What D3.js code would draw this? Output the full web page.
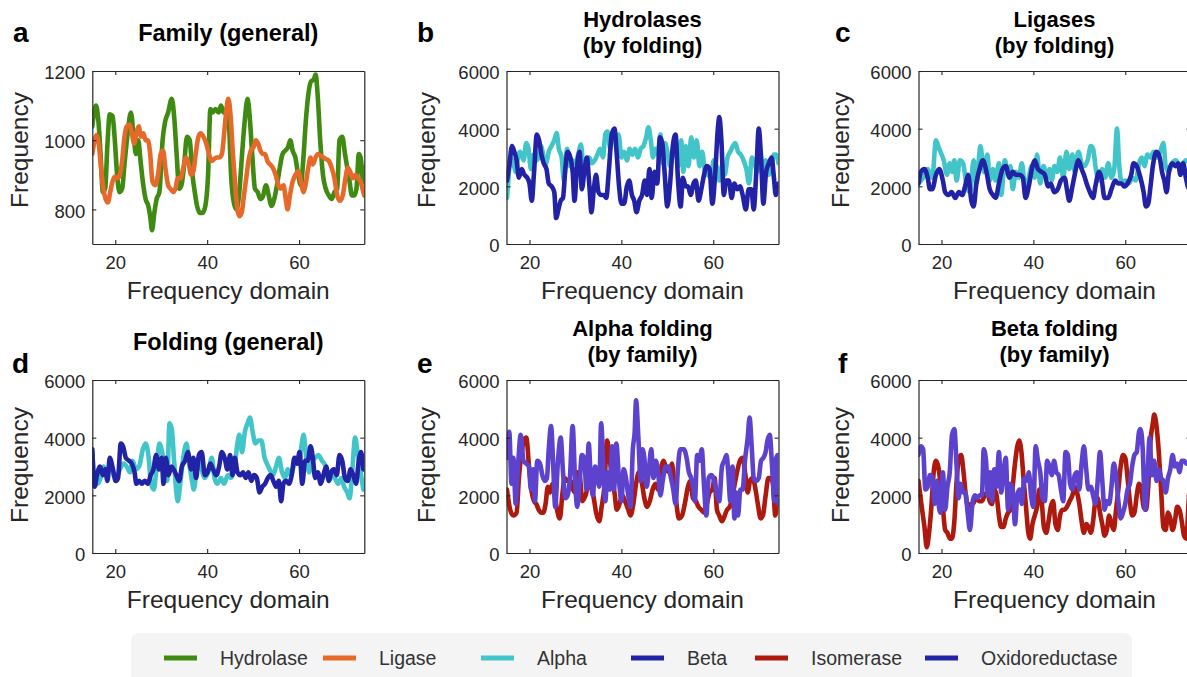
<!DOCTYPE html>
<html><head><meta charset="utf-8">
<script src="https://cdn.jsdelivr.net/npm/d3@7"></script>
<style>
body{margin:0;background:#fff;}
svg text{font-family:"Liberation Sans",Arial,Helvetica,sans-serif;}
</style>
</head><body>
<svg id="chart" width="1187" height="677"></svg>
<script>
// ---------------- DATA ----------------
const xTicks = [20, 40, 60];
const famTicks = [800, 1000, 1200];
const freqTicks = [0, 2000, 4000, 6000];
const legendNames = ["Hydrolase", "Ligase", "Alpha", "Beta", "Isomerase", "Oxidoreductase"];

// a: Family (general)
const famHydrolase = [[15,1040],[15.4,1080],[15.8,1100],[16.3,1060],[16.8,960],[17.3,850],[17.8,860],[18.3,990],[18.8,1075],[19.4,1070],[19.9,1000],[20.4,900],[20.9,850],[21.5,860],[22,930],[22.7,1020],[23.4,1080],[24,1010],[24.5,960],[25,1000],[25.5,940],[26,880],[26.6,830],[27.2,810],[27.6,780],[28,740],[28.5,790],[29,830],[29.6,850],[30.3,1000],[30.8,1050],[31.5,1080],[32.3,1120],[32.8,1070],[33.4,950],[33.9,860],[34.4,870],[35,930],[35.6,1010],[36.2,1000],[36.8,900],[37.3,850],[37.8,810],[38.4,790],[39,790],[39.6,810],[40.2,900],[40.7,1090],[41.2,1080],[41.8,1090],[42.5,1080],[43,1100],[43.6,1080],[44.2,1090],[44.7,1060],[45.2,900],[45.8,820],[46.4,800],[47,850],[47.6,960],[48.2,1060],[48.8,1120],[49.3,1060],[49.8,960],[50.4,860],[51,850],[51.6,830],[52.2,840],[52.8,870],[53.4,840],[54,810],[54.6,830],[55.2,870],[55.8,920],[56.4,960],[57,970],[57.6,980],[58.1,1000],[58.6,970],[59.2,950],[59.8,900],[60.4,870],[60.9,940],[61.5,1060],[62,1130],[62.6,1170],[63.2,1175],[63.6,1190],[64.1,1120],[64.6,1000],[65.2,900],[65.8,860],[66.5,840],[67.1,830],[67.7,850],[68.3,860],[68.8,1000],[69.4,1010],[70,960],[70.5,920],[71,880],[71.5,840],[72,840],[72.5,860],[73,960],[73.4,950],[74,880],[74.2,920]];
const famLigase = [[15,960],[15.5,1000],[15.9,1015],[16.4,990],[16.9,920],[17.4,860],[17.9,830],[18.4,820],[18.9,850],[19.4,880],[19.9,895],[20.5,890],[21,900],[21.5,940],[22,1010],[22.5,1040],[23.1,1045],[23.6,1020],[24.1,990],[24.6,1020],[25.1,1040],[25.6,1010],[26.1,1020],[26.6,1000],[27.1,1000],[27.6,960],[28.1,880],[28.7,870],[29.3,900],[29.9,960],[30.4,970],[30.9,920],[31.5,870],[32,860],[32.6,850],[33.1,860],[33.6,890],[34.2,890],[34.8,920],[35.4,950],[36,930],[36.5,900],[37,910],[37.5,960],[38.1,1010],[38.6,1020],[39.2,1010],[39.8,990],[40.4,960],[40.9,940],[41.5,945],[42,950],[42.6,950],[43.2,960],[43.7,1020],[44.2,1090],[44.6,1120],[45.1,1070],[45.6,960],[46.1,870],[46.6,800],[47,780],[47.5,790],[48,840],[48.5,890],[49,940],[49.5,970],[50.1,980],[50.6,1000],[51.1,990],[51.6,970],[52.1,960],[52.6,960],[53.1,940],[53.7,930],[54.3,920],[54.9,900],[55.5,870],[56,860],[56.6,870],[57.1,830],[57.5,800],[58,840],[58.6,880],[59.2,900],[59.8,910],[60.4,880],[61,850],[61.4,870],[62,920],[62.5,950],[63,930],[63.6,950],[64.1,960],[64.7,955],[65.3,950],[65.9,945],[66.5,940],[67.1,920],[67.7,890],[68.3,840],[68.9,825],[69.5,840],[70.1,890],[70.6,920],[71.1,910],[71.7,890],[72.3,900],[72.8,890],[73.4,880],[74,850],[74.2,840]];

// b: Hydrolases (by folding)
const hydAlpha = [[15.1,1600],[15.4,2200],[15.8,3000],[16.5,2800],[17,2500],[17.6,3100],[18,3200],[18.7,2900],[19.3,3500],[19.8,3300],[20.3,2600],[20.9,3100],[21.5,2900],[22,3000],[22.5,3400],[23.1,3000],[23.6,2800],[24.2,3200],[24.8,3400],[25.4,3600],[25.9,3850],[26.4,3300],[27,3000],[27.5,2200],[28.2,3300],[28.8,2700],[29.4,2900],[30,2800],[30.6,3100],[31.2,3450],[31.8,2600],[32.4,2800],[33,3000],[33.6,2800],[34.2,2900],[34.8,3100],[35.4,3300],[36,3000],[36.5,3800],[37,3900],[37.6,3300],[38.2,3900],[38.8,3700],[39.4,3800],[40,3000],[40.6,3200],[41.2,2900],[41.8,3300],[42.4,3100],[43,3300],[43.6,3000],[44.2,3300],[44.8,3400],[45.4,3700],[45.9,4050],[46.4,3600],[46.9,3000],[47.4,3300],[47.9,3100],[48.5,3800],[49,2800],[49.5,3500],[50,3200],[50.6,2700],[51.2,3100],[51.8,3400],[52.4,2700],[53,3600],[53.5,2500],[54,3400],[54.6,2700],[55.2,3700],[55.8,3000],[56.4,3600],[57,2700],[57.6,3200],[58.2,2500],[58.8,2400],[59.5,2300],[60.1,2900],[60.7,2700],[61.3,2200],[61.9,2700],[62.5,2400],[63.1,3000],[63.7,3200],[64.3,3400],[64.8,3500],[65.4,3200],[66,3100],[66.6,2900],[67.2,2600],[67.8,2100],[68.4,3000],[69,2800],[69.6,2500],[70.2,3200],[70.8,2500],[71.4,2900],[72,2400],[72.6,2600],[73.2,3100],[73.7,3100],[74.2,2800]];
const hydBeta = [[15.1,2200],[15.6,2700],[16.2,3400],[16.7,3200],[17.2,2900],[17.7,2300],[18.3,2600],[18.9,2400],[19.5,2300],[20,2100],[20.5,1500],[21,2500],[21.6,3800],[22.1,3600],[22.6,3100],[23.1,2800],[23.7,2600],[24.2,2100],[24.8,2000],[25.4,1800],[25.8,900],[26.3,1200],[26.8,1500],[27.3,1600],[27.8,2600],[28.3,3200],[28.9,3000],[29.4,2500],[29.8,1500],[30.3,2600],[30.9,3200],[31.4,1900],[32,2600],[32.5,3000],[33,2100],[33.5,1100],[34,1900],[34.5,2400],[35,1800],[35.6,1700],[36.2,1700],[36.7,1600],[37.3,2600],[37.9,3800],[38.5,4000],[39,3100],[39.5,2000],[40,1400],[40.6,1400],[41.2,2000],[41.7,2200],[42.3,1700],[42.8,1500],[43.3,1100],[43.9,1500],[44.5,1700],[45.1,2200],[45.6,1700],[46.1,2600],[46.6,1600],[47.2,2500],[47.8,2100],[48.4,3700],[48.9,3500],[49.4,2500],[50,1300],[50.6,2100],[51.2,3400],[51.8,3800],[52.3,2300],[52.9,1300],[53.4,2300],[54,2000],[54.5,2000],[55.1,1700],[55.7,2100],[56.2,2200],[56.8,1500],[57.4,1900],[58,2400],[58.6,2700],[59.2,2600],[59.8,1400],[60.4,2400],[61,4000],[61.3,4400],[61.8,3500],[62.3,1700],[62.8,2200],[63.4,2200],[64,1600],[64.6,2100],[65.2,1900],[65.8,2000],[66.4,1700],[67.1,1200],[67.7,1900],[68.3,1900],[68.8,1200],[69.4,2600],[69.9,4000],[70.4,3000],[70.9,1400],[71.5,2500],[72.1,2800],[72.7,3000],[73.2,2300],[73.6,1700],[74.2,2100]];

// c: Ligases (by folding)
const ligAlpha = [[15,2100],[16,2300],[17,2600],[18,2300],[18.8,3600],[19.5,3300],[20.5,2900],[21.2,2400],[21.8,2800],[22.3,2500],[22.8,2900],[23.3,2200],[24,2900],[24.7,2800],[25.5,2000],[26.2,1800],[27,2900],[27.6,2100],[28.5,3400],[29.2,2500],[30,3100],[30.5,2200],[31.2,2600],[31.8,2200],[32.5,2800],[33,1700],[33.8,2900],[34.5,2400],[35,2700],[35.5,1900],[36.2,2500],[36.8,2300],[37.5,2800],[38.2,2000],[39,2300],[39.6,2700],[40.3,2300],[40.8,3100],[41.5,2100],[42.2,2700],[43,2300],[43.5,2600],[44,2200],[44.6,2700],[45.2,2500],[45.8,3000],[46.5,2300],[47.2,3200],[47.8,2600],[48.5,3100],[49,2500],[49.8,3200],[50.5,2800],[51,2700],[51.8,2900],[52.5,3400],[53,3300],[53.6,2600],[54.3,2200],[55,2600],[55.6,2300],[56.3,2800],[57,2300],[57.6,2600],[58.2,4000],[58.7,2700],[59.3,2100],[60,2200],[60.8,2100],[61.5,2300],[62.3,2200],[63,2800],[63.6,3000],[64.2,2700],[64.8,3100],[65.5,3000],[66.2,3200],[67,3000],[67.8,3300],[68.3,3500],[68.8,2700],[69.5,2500],[70.2,2800],[71,2900],[71.8,2700],[72.5,2800],[73.3,2900],[74,2800]];
const ligBeta = [[15,2100],[15.5,2500],[16.3,2600],[17,2300],[17.5,1900],[18,1900],[18.8,2400],[19.5,2600],[20.3,2200],[20.8,1800],[21.5,1700],[22.2,1800],[23,1600],[23.8,1800],[24.5,1700],[25.3,2100],[25.8,2400],[26.5,1500],[27,1300],[27.6,2100],[28.3,2600],[29,2900],[29.8,2500],[30.5,1900],[31.2,1700],[31.8,1600],[32.5,2100],[33.3,2600],[34,2700],[34.8,2300],[35.5,2500],[36.2,2400],[37,2400],[37.7,2300],[38.3,1600],[39,2000],[39.8,2700],[40.3,2900],[41,2600],[41.8,2500],[42.5,2400],[43.2,2000],[43.8,2100],[44.5,1800],[45.3,1900],[46,2200],[46.8,2300],[47.3,1900],[47.8,1500],[48.5,2000],[49,2400],[49.8,2900],[50.5,2600],[51,2400],[51.8,2000],[52.3,1800],[53,1600],[53.5,2000],[54.3,2500],[54.8,2300],[55.5,1600],[56.3,1600],[57,1900],[57.8,2200],[58.5,2100],[59.2,2100],[59.8,2000],[60.5,2100],[61.3,2400],[61.8,2800],[62.5,2700],[63.3,2300],[64,1800],[64.5,1300],[65,1400],[65.5,2000],[66,2700],[66.8,3200],[67.5,3000],[68,2500],[68.5,2200],[69,1800],[69.5,2500],[70.2,2800],[71,2700],[71.5,2800],[72,2400],[72.6,2800],[73.2,2300],[73.6,2000],[74,1900]];

// d: Folding (general)
const foldAlpha = [[15,3500],[15.6,2400],[16.2,2400],[16.8,2600],[17.5,3000],[18.2,2700],[19,3100],[19.6,2700],[20.2,2600],[21,2900],[21.8,3100],[22.5,3000],[23.2,2800],[23.8,3200],[24.5,2900],[25.2,3000],[26,3600],[26.6,3800],[27.2,3400],[27.8,2400],[28.4,2200],[29,3000],[29.6,3800],[30.2,3500],[30.8,2900],[31.3,2500],[31.8,4500],[32.3,4300],[32.8,3200],[33.3,2100],[33.6,1800],[34.2,2500],[34.8,3300],[35.5,3800],[36,3200],[36.6,2600],[37.1,2200],[37.6,2800],[38.2,3300],[38.8,2900],[39.5,2600],[40.2,2800],[41,3300],[41.6,2600],[42.2,2400],[43,2600],[43.7,2400],[44.5,2700],[45.2,2600],[46,3000],[46.5,3700],[47,4100],[47.6,3500],[48.2,4200],[48.8,4500],[49.3,4700],[49.9,4200],[50.5,3800],[51.2,3900],[51.8,3900],[52.5,3300],[53,3100],[53.6,2900],[54.3,2700],[55,3000],[55.6,3300],[56.3,2800],[57,2600],[57.5,2900],[58.2,2700],[58.8,3000],[59.3,3300],[60,3100],[60.5,3700],[61,4100],[61.5,3400],[62.2,2800],[62.8,3200],[63.5,3300],[64.2,3400],[65,3200],[65.8,3000],[66.5,2500],[67.2,2700],[67.8,2600],[68.5,2400],[69.2,2600],[69.8,2300],[70.5,2100],[71,1900],[71.6,2900],[72.2,4000],[72.8,3400],[73.4,2800],[74,2200]];
const foldBeta = [[15,3600],[15.5,2300],[16,2700],[16.7,3000],[17.3,2700],[17.8,2900],[18.3,2500],[18.8,3300],[19.5,2900],[20.1,2500],[20.6,2600],[21.2,3800],[21.7,3700],[22.3,3300],[23,3200],[23.6,3100],[24.2,2800],[24.6,2400],[25.2,2500],[25.8,2400],[26.4,2500],[27.1,2400],[27.7,2700],[28.3,2900],[28.9,3400],[29.5,2900],[30.1,3300],[30.5,2400],[31,3300],[31.6,2700],[32.2,3000],[32.7,2900],[33.3,2700],[33.9,2500],[34.5,3000],[35.2,3200],[35.8,3500],[36.5,2900],[37,3300],[37.6,2600],[38.2,3400],[38.8,3500],[39.5,2700],[40.1,2800],[40.7,3100],[41.3,2900],[42,2700],[42.6,3000],[43.2,3500],[43.8,3300],[44.4,2900],[45,3400],[45.5,2700],[46,3300],[46.6,2800],[47.2,2700],[47.8,2800],[48.4,2600],[49,2800],[49.6,2500],[50.2,2700],[50.8,2600],[51.4,2100],[52,2300],[52.6,2400],[53.2,2600],[53.8,2700],[54.4,2500],[55,2300],[55.6,2500],[56.1,1800],[56.6,2400],[57.2,2500],[57.8,2400],[58.4,2700],[59,3300],[59.6,3100],[60.1,3500],[60.7,2400],[61.3,3200],[61.9,3200],[62.5,3700],[63,3300],[63.5,2600],[64.1,2800],[64.7,2400],[65.3,2700],[65.9,3000],[66.5,2500],[67,2800],[67.6,2900],[68.2,2700],[68.8,3400],[69.4,3200],[70,2600],[70.6,2500],[71.2,2900],[71.8,2700],[72.4,2400],[73,3200],[73.5,3500],[74,2900]];

// e: Alpha folding (by family)
const alphaIsomerase = [[15.1,2200],[15.8,1500],[16.5,1300],[17.2,1400],[17.7,2600],[18.3,3500],[18.8,3900],[19.3,4000],[20,2800],[20.5,2100],[21,1800],[21.5,1700],[22,1500],[22.5,1400],[23,1400],[23.5,1700],[24,2300],[24.5,2100],[25,2400],[25.5,2000],[26,1500],[26.6,1200],[27.2,2100],[27.7,2600],[28.3,2500],[29,2500],[29.5,2200],[30,2100],[30.5,2800],[31,2600],[31.5,1800],[32.2,2000],[32.8,2300],[33.4,2300],[34,1900],[34.5,1400],[35.2,1100],[35.7,1600],[36.3,2300],[36.9,3900],[37.5,3200],[38,2600],[38.5,2100],[39,1500],[39.6,1700],[40.2,2000],[40.8,1800],[41.5,1500],[42,1300],[42.6,1700],[43.2,2400],[43.8,2800],[44.4,2500],[45,1900],[45.6,1600],[46.2,1800],[46.8,2200],[47.4,2400],[48,2200],[48.5,2800],[49.2,3200],[49.8,2900],[50.5,2800],[51,3100],[51.5,2400],[52,1700],[52.5,1200],[53.2,1300],[53.8,1700],[54.5,2300],[55,2500],[55.6,1900],[56.2,1800],[56.8,1600],[57.4,1500],[58,1400],[58.6,1700],[59.2,2100],[59.8,2200],[60.3,2600],[60.8,1500],[61.3,1300],[61.9,1100],[62.5,1300],[63,1500],[63.6,1600],[64.2,2000],[64.8,2500],[65.3,2900],[65.8,3200],[66.4,3300],[67,2700],[67.5,2100],[68,2500],[68.6,2600],[69.2,2200],[69.8,1600],[70.3,1200],[70.8,1300],[71.4,2000],[72,2600],[72.5,2600],[73,2400],[73.5,1300],[74,1800]];
const alphaOxido = [[15.1,3300],[15.6,4200],[16.1,2400],[16.5,3300],[17,1700],[17.5,3000],[18.1,4100],[18.7,3200],[19.3,3100],[19.9,3000],[20.3,2200],[20.8,2900],[21.2,1800],[21.7,3200],[22.3,3100],[22.8,2700],[23.3,2500],[23.8,2600],[24.2,3600],[24.7,4400],[25.2,2900],[25.6,1600],[26.2,3200],[26.8,4000],[27.3,2800],[27.8,1900],[28.3,2000],[28.8,2600],[29.4,4400],[29.9,2600],[30.4,1600],[30.9,2400],[31.4,3400],[31.9,3300],[32.4,2200],[32.9,3800],[33.3,2700],[33.8,2000],[34.3,3000],[34.8,2600],[35.2,2300],[35.6,4500],[36.1,2900],[36.5,1800],[37,2800],[37.5,2200],[38,3700],[38.4,2200],[38.9,3800],[39.5,2500],[40,1800],[40.5,2900],[41,2600],[41.5,2000],[42,1600],[42.5,3600],[42.9,4200],[43.2,5300],[43.7,4000],[44.2,2500],[44.6,3600],[45,3300],[45.5,2300],[46,2900],[46.5,3600],[47,2600],[47.5,3200],[48,2800],[48.5,2000],[49,2500],[49.6,3000],[50.2,3000],[50.8,2600],[51.3,2200],[51.8,1700],[52.3,2900],[52.8,3600],[53.6,3600],[54.2,3300],[54.7,2800],[55.2,2600],[55.6,2300],[56,1800],[56.5,3400],[57,3200],[57.5,3600],[58,2300],[58.5,1300],[59,2600],[59.6,2700],[60.2,2500],[60.7,2100],[61.3,1800],[61.9,3000],[62.4,3200],[62.9,3400],[63.3,2700],[63.7,1800],[64.2,3000],[64.6,1200],[65,2100],[65.4,1300],[65.9,2200],[66.4,2200],[66.9,3200],[67.5,4000],[67.9,4700],[68.4,3600],[68.8,2600],[69.3,2500],[69.9,2600],[70.4,3200],[70.9,3300],[71.4,3500],[71.8,3900],[72.3,4100],[72.8,3000],[73.3,1800],[73.7,3300],[74.1,3400],[74.2,1700]];

// f: Beta folding (by family)
const betaIsomerase = [[15,2500],[15.7,1600],[16.3,900],[16.8,200],[17.3,700],[17.8,1600],[18.3,2800],[18.8,3200],[19.3,3000],[19.8,2400],[20.3,1600],[20.8,800],[21.3,700],[21.8,500],[22.3,500],[22.8,1100],[23.3,2500],[23.8,3300],[24.3,3400],[24.8,2800],[25.3,2000],[25.8,1600],[26.3,1700],[26.8,1700],[27.5,1900],[28.2,1800],[28.8,1800],[29.4,2000],[30,2100],[30.5,1800],[31,1700],[31.5,2200],[32,2000],[32.5,1300],[33,900],[33.5,900],[34,1200],[34.5,1400],[35,1500],[35.5,2300],[36,3100],[36.5,3700],[36.9,3900],[37.4,3500],[37.9,2500],[38.4,1600],[38.9,700],[39.3,500],[39.8,1000],[40.3,1300],[40.8,1600],[41.3,2200],[41.8,1800],[42.3,900],[42.8,700],[43.3,1100],[43.8,1600],[44.3,1800],[44.8,1000],[45.3,800],[45.8,1300],[46.3,1500],[46.8,1500],[47.3,1600],[47.9,1800],[48.5,2000],[49,2300],[49.5,2100],[50,1700],[50.5,1100],[51,700],[51.5,1000],[52,900],[52.5,700],[53,1100],[53.5,1800],[54,1900],[54.5,1400],[55,1000],[55.5,600],[56,800],[56.5,1300],[57,1000],[57.5,800],[58,1500],[58.5,2200],[59,3000],[59.5,3400],[60,3300],[60.5,2600],[61,1800],[61.5,1300],[62,1400],[62.5,2000],[63,2400],[63.5,2200],[64,1600],[64.5,1500],[65,2300],[65.5,3900],[66,4500],[66.3,4800],[66.8,4400],[67.3,3500],[67.8,2200],[68.3,900],[68.8,800],[69.3,1400],[69.8,1200],[70.3,800],[70.8,1100],[71.3,1600],[71.8,1500],[72.3,1100],[72.8,600],[73.3,500],[73.8,1800],[74.2,2600]];
const betaOxido = [[15,3400],[15.5,3700],[16,3600],[16.5,2200],[17,2300],[17.5,2700],[18,2600],[18.5,1700],[19,2500],[19.3,1800],[19.8,1400],[20.3,2800],[20.8,1500],[21.3,2300],[21.8,2800],[22.3,4100],[22.8,4300],[23.3,3000],[23.7,1900],[24.2,2400],[24.7,2100],[25.2,2100],[25.7,1400],[26.2,800],[26.8,1800],[27.3,2000],[27.8,1900],[28.3,2000],[28.8,2000],[29.2,3600],[29.7,3200],[30.1,2000],[30.6,2800],[31,1800],[31.5,2900],[32,2300],[32.5,3500],[33,2100],[33.5,2800],[34,3300],[34.5,1500],[35,2400],[35.5,2200],[36,1000],[36.5,2000],[37,2200],[37.5,1700],[38,2600],[38.5,2500],[39,2800],[39.5,2000],[40,1600],[40.5,3700],[41,3200],[41.5,2800],[42,1900],[42.5,1800],[43,3200],[43.5,3000],[44,2700],[44.5,3200],[45,2800],[45.5,2700],[46,2200],[46.5,1800],[47,3500],[47.5,3400],[48,2400],[48.5,2200],[49,2700],[49.5,2800],[50,2200],[50.5,3100],[51,3700],[51.5,2900],[52,2200],[52.5,2300],[53,2000],[53.5,1700],[54,2500],[54.5,3500],[55,2500],[55.5,1500],[56,1800],[56.5,1700],[57,2300],[57.5,3100],[58,2700],[58.5,1800],[59,1200],[59.5,1400],[60,1700],[60.5,2200],[61,2400],[61.5,3000],[62,3400],[62.5,3500],[63,4200],[63.3,4300],[63.8,3600],[64.3,1500],[64.8,2500],[65.3,4000],[65.8,2700],[66.3,3200],[66.8,2500],[67.3,2900],[67.8,2600],[68.3,2500],[68.8,2100],[69.3,2600],[69.8,2900],[70.3,3400],[70.8,3000],[71.3,3100],[71.8,2800],[72.3,3200],[72.8,3200],[73.3,3100],[74,3200]];

// ---------------- STYLE / LAYOUT ----------------
const seriesColor = {
  Hydrolase: "#3f8a10", Ligase: "#e6692a", Alpha: "#41c5c8",
  Beta: "#2222a6", Isomerase: "#ad190c", Oxidoreductase: "#5c42cc"
};
const legendColor = Object.assign({}, seriesColor, {Oxidoreductase: "#2424a6"});

const PW = 272, PH = 173;
const xDomain = [15, 74.2];

const panels = [
  {letter:"a", lx:13, ly:42, left:92.3, top:71, title:["Family (general)"], yDomain:[700,1200], yTicks:famTicks, ylabX:28, ylabY:150,
   series:[["Hydrolase",famHydrolase],["Ligase",famLigase]]},
  {letter:"b", lx:417, ly:42, left:506.5, top:71, title:["Hydrolases","(by folding)"], yDomain:[0,6000], yTicks:freqTicks, ylabX:435, ylabY:150,
   series:[["Alpha",hydAlpha],["Beta",hydBeta]]},
  {letter:"c", lx:835, ly:42, left:918.5, top:71, title:["Ligases","(by folding)"], yDomain:[0,6000], yTicks:freqTicks, ylabX:849, ylabY:150,
   series:[["Alpha",ligAlpha],["Beta",ligBeta]]},
  {letter:"d", lx:12, ly:373, left:92.3, top:380, title:["Folding (general)"], yDomain:[0,6000], yTicks:freqTicks, ylabX:28, ylabY:465,
   series:[["Alpha",foldAlpha],["Beta",foldBeta]]},
  {letter:"e", lx:417, ly:373, left:506.5, top:380, title:["Alpha folding","(by family)"], yDomain:[0,6000], yTicks:freqTicks, ylabX:435, ylabY:465,
   series:[["Isomerase",alphaIsomerase],["Oxidoreductase",alphaOxido]]},
  {letter:"f", lx:838, ly:373, left:918.5, top:380, title:["Beta folding","(by family)"], yDomain:[0,6000], yTicks:freqTicks, ylabX:849, ylabY:465,
   series:[["Isomerase",betaIsomerase],["Oxidoreductase",betaOxido]]}
];

const svg = d3.select("#chart");
const AX = "#262626";

panels.forEach((p, i) => {
  const x = d3.scaleLinear().domain(xDomain).range([0, PW]);
  const y = d3.scaleLinear().domain(p.yDomain).range([PH, 0]);
  const g = svg.append("g").attr("transform", `translate(${p.left},${p.top})`);

  g.append("clipPath").attr("id", "clip" + i)
    .append("rect").attr("width", PW).attr("height", PH);

  const line = d3.line().x(d => x(d[0])).y(d => y(d[1])).curve(d3.curveMonotoneX);
  const lg = g.append("g").attr("clip-path", `url(#clip${i})`);
  p.series.forEach(([name, data]) => {
    lg.append("path").datum(data)
      .attr("d", line)
      .attr("fill", "none")
      .attr("stroke", seriesColor[name])
      .attr("stroke-width", 4.6)
      .attr("stroke-linejoin", "round")
      .attr("stroke-linecap", "round");
  });

  // axes
  const styleAxis = sel => {
    sel.select(".domain").attr("stroke", AX).attr("stroke-width", 1.2);
    sel.selectAll(".tick line").attr("stroke", AX).attr("stroke-width", 1.1);
    sel.selectAll("text").attr("fill", AX).attr("font-size", "18.5px")
      .attr("font-family", '"Liberation Sans", Arial, sans-serif');
  };
  const xb = g.append("g").attr("transform", `translate(0,${PH})`)
    .call(d3.axisBottom(x).tickValues(xTicks).tickSizeInner(-4).tickSizeOuter(0).tickFormat(d3.format("d")));
  styleAxis(xb);
  xb.selectAll("text").attr("y", 24.5).attr("dy", null);

  const xt = g.append("g")
    .call(d3.axisTop(x).tickValues(xTicks).tickSizeInner(-4).tickSizeOuter(0).tickFormat(""));
  styleAxis(xt);

  const yl = g.append("g")
    .call(d3.axisLeft(y).tickValues(p.yTicks).tickSizeInner(-4).tickSizeOuter(0).tickPadding(7).tickFormat(d3.format("d")));
  styleAxis(yl);
  yl.selectAll("text").attr("dy", "0.42em");

  const yr = g.append("g").attr("transform", `translate(${PW},0)`)
    .call(d3.axisRight(y).tickValues(p.yTicks).tickSizeInner(-4).tickSizeOuter(0).tickFormat(""));
  styleAxis(yr);

  // axis labels
  g.append("text")
    .attr("x", PW / 2).attr("y", PH + 54.5)
    .attr("text-anchor", "middle").attr("font-size", "24.5px").attr("fill", AX)
    .text("Frequency domain");
  svg.append("text")
    .attr("transform", `translate(${p.ylabX},${p.ylabY}) rotate(-90)`)
    .attr("text-anchor", "middle").attr("font-size", "24.5px").attr("fill", AX)
    .text("Frequency");

  // title
  const single = p.title.length === 1;
  const tb = single ? [-30] : [-44, -18.5];
  p.title.forEach((t, k) => {
    g.append("text")
      .attr("x", PW / 2).attr("y", tb[k])
      .attr("text-anchor", "middle").attr("font-size", single ? "23.5px" : "22px").attr("font-weight", "bold")
      .attr("fill", "#000").text(t);
  });

  // panel letter
  svg.append("text").attr("x", p.lx).attr("y", p.ly)
    .attr("font-size", "28px").attr("font-weight", "bold").attr("fill", "#000")
    .text(p.letter);
});

// legend
const legendLineX = [164, 323, 481, 631, 755, 925];
const lgG = svg.append("g");
lgG.append("rect").attr("x", 131).attr("y", 633).attr("width", 1001).attr("height", 60)
  .attr("rx", 8).attr("fill", "#f4f4f4");
legendNames.forEach((name, i) => {
  const lx = legendLineX[i];
  lgG.append("line").attr("x1", lx).attr("x2", lx + 33).attr("y1", 658).attr("y2", 658)
    .attr("stroke", legendColor[name]).attr("stroke-width", 5);
  lgG.append("text").attr("x", lx + 56).attr("y", 665)
    .attr("font-size", "19.5px").attr("fill", "#333").text(name);
});
</script>
</body></html>
